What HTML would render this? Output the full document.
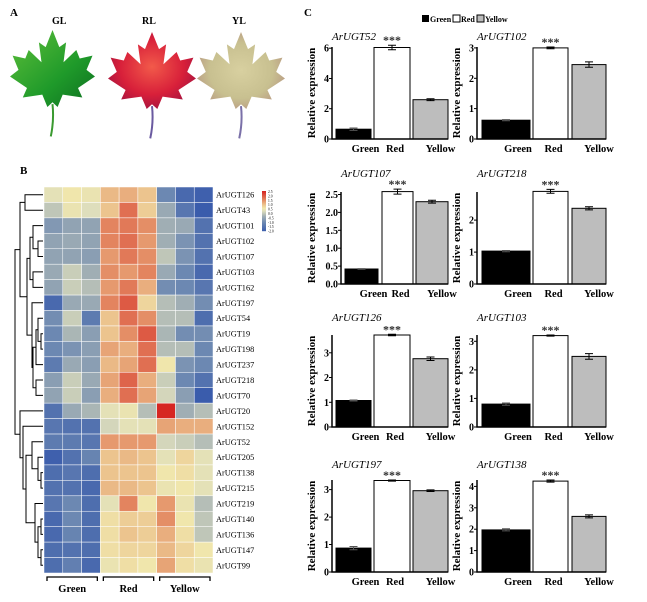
<!DOCTYPE html>
<html><head><meta charset="utf-8"><style>
html,body{margin:0;padding:0;background:#fff;}
svg{display:block;font-family:"Liberation Serif",serif;}
</style></head><body>
<svg id="fig" width="647" height="602" viewBox="0 0 647 602">
<defs>
<linearGradient id="gGreen" x1="0" y1="0" x2="1" y2="1"><stop offset="0" stop-color="#5fbf3a"/><stop offset="0.6" stop-color="#1f9a2a"/><stop offset="1" stop-color="#0d6e20"/></linearGradient>
<radialGradient id="gRed" cx="0.5" cy="0.45" r="0.6"><stop offset="0" stop-color="#f25a4a"/><stop offset="0.6" stop-color="#d8203a"/><stop offset="1" stop-color="#a01240"/></radialGradient>
<radialGradient id="gYel" cx="0.5" cy="0.5" r="0.6"><stop offset="0" stop-color="#d8d0a0"/><stop offset="0.6" stop-color="#c8c090"/><stop offset="1" stop-color="#b49080"/></radialGradient>
</defs>
<g id="panelA">
<text x="10" y="16" font-weight="bold" font-size="11">A</text>
<text x="52" y="24" font-weight="bold" font-size="10">GL</text>
<text x="142" y="24" font-weight="bold" font-size="10">RL</text>
<text x="232" y="24" font-weight="bold" font-size="10">YL</text>
</g>
<g id="panelB">
<text x="20" y="174" font-weight="bold" font-size="11">B</text>
</g>
<g id="panelC">
<text x="304" y="16" font-weight="bold" font-size="11">C</text>
<g font-weight="bold" font-size="8">
<rect x="422" y="15" width="7" height="7" fill="#000"/>
<text x="430" y="22">Green</text>
<rect x="453" y="15" width="7" height="7" fill="#fff" stroke="#000"/>
<text x="461" y="22">Red</text>
<rect x="477" y="15" width="7" height="7" fill="#bbb" stroke="#000"/>
<text x="485" y="22">Yellow</text>
</g>
</g>
</svg>
<script>
// ---------- heatmap data ----------
const heatGenes = ["ArUGT126","ArUGT43","ArUGT101","ArUGT102","ArUGT107","ArUGT103","ArUGT162","ArUGT197","ArUGT54","ArUGT19","ArUGT198","ArUGT237","ArUGT218","ArUGT70","ArUGT20","ArUGT152","ArUGT52","ArUGT205","ArUGT138","ArUGT215","ArUGT219","ArUGT140","ArUGT136","ArUGT147","ArUGT99"];
const heatGroups = ["Green","Red","Yellow"];
const heatValues = [
[0.4,0.6,0.5,1.1,1.2,1.0,-1.0,-1.7,-1.9],
[0,0.5,0.3,1.0,1.8,0.9,-0.4,-1.4,-2.0],
[-0.7,-0.5,-0.5,1.6,1.7,1.5,-0.3,-0.4,-1.5],
[-0.5,-0.4,-0.5,1.6,1.8,1.4,-0.3,-0.8,-1.5],
[-0.5,-0.5,-0.6,1.4,1.7,1.5,0,-0.8,-1.5],
[-0.4,0.1,-0.3,1.5,1.4,1.6,-0.4,-1.0,-1.7],
[-0.5,0.1,-0.1,1.4,1.7,1.2,-0.9,-1.0,-1.4],
[-1.7,-0.4,-0.4,1.6,2.0,0.8,-0.1,-0.3,-0.9],
[-0.9,0.1,-1.3,1.0,1.8,1.5,-0.1,-0.1,-1.6],
[-1.0,-0.2,-0.6,1.0,1.5,2.0,-0.2,-0.9,-0.9],
[-1.0,-0.8,-0.6,1.3,1.2,1.8,-0.1,-0.1,-1.0],
[-1.3,-0.4,-0.6,1.1,1.3,1.8,0.6,-0.8,-1.0],
[-0.6,0.1,-0.4,1.3,1.9,1.2,0.1,-1.0,-1.5],
[-0.5,0.1,-0.6,1.2,1.8,1.3,0.2,-0.6,-2.0],
[-1.5,-0.4,-0.2,0.4,0.5,-0.1,2.5,-0.3,-0.1],
[-1.4,-1.5,-1.5,0.2,0.4,0.4,1.3,1.2,1.2],
[-1.3,-1.3,-1.4,1.4,1.4,1.4,0.2,0.1,-0.1],
[-1.9,-1.5,-1.1,1.0,1.1,1.0,0.4,0.8,0.4],
[-1.6,-1.4,-1.6,1.0,1.0,1.0,0.6,0.7,0.4],
[-1.5,-1.5,-1.7,1.1,1.1,1.0,0.5,0.6,0.4],
[-1.4,-1.0,-1.6,0.4,1.6,0.6,1.4,0.5,-0.1],
[-1.7,-1.0,-1.6,0.7,0.9,0.9,1.5,0.6,0.0],
[-1.7,-1.1,-1.6,0.7,1.0,0.9,1.2,0.7,0.0],
[-1.6,-1.5,-1.6,0.7,0.8,0.8,1.1,0.8,0.6],
[-1.6,-1.2,-1.7,0.5,0.7,0.6,1.3,0.7,0.5]
];
const colorbarTicks = ["2.5","2.0","1.5","1.0","0.5","0.0","-0.5","-1.0","-1.5","-2.0"];
// ---------- bar chart data ----------
const barGenes = ["ArUGT52","ArUGT102","ArUGT107","ArUGT218","ArUGT126","ArUGT103","ArUGT197","ArUGT138"];
const barCategories = ["Green","Red","Yellow"];
const greenValues = [0.65,0.62,0.42,1.03,1.07,0.80,0.87,1.97];
const redValues = [6.05,3.00,2.58,2.90,3.72,3.20,3.33,4.25];
const yellowValues = [2.60,2.45,2.30,2.37,2.76,2.47,2.96,2.60];
const greenErr = [0.08,0.02,0.01,0.02,0.02,0.04,0.06,0.05];
const redErr = [0.15,0.03,0.07,0.06,0.03,0.02,0.02,0.05];
const yellowErr = [0.06,0.09,0.04,0.05,0.07,0.10,0.03,0.07];
const yMaxes = [6.08,3.03,2.57,2.88,3.72,3.22,3.35,4.3];
const tickLabels = [["0","2","4","6"],["0","1","2","3"],["0.0","0.5","1.0","1.5","2.0","2.5"],["0","1","2"],["0","1","2","3"],["0","1","2","3"],["0","1","2","3"],["0","1","2","3","4"]];

const NS="http://www.w3.org/2000/svg";
const svg=document.getElementById('fig');
function mk(tag,attrs,parent,txt){const e=document.createElementNS(NS,tag);for(const k in attrs)e.setAttribute(k,attrs[k]);if(txt!==undefined)e.textContent=txt;(parent||svg).appendChild(e);return e;}

// ---------- leaves ----------
const leafPts=[[50,0],[58,18],[66,13],[63,34],[78,21],[82,30],[97,27],[90,42],[100,49],[80,61],[85,71],[62,68],[56,81],[50,76],[44,81],[38,68],[15,71],[20,61],[0,49],[10,42],[3,27],[18,30],[22,21],[37,34],[34,13],[42,18]];
const pA=document.getElementById('panelA');
[[10,30,85,95,'url(#gGreen)','#3a9a30','green-leaf'],[108,32,88,95,'url(#gRed)','#6a5aa0','red-leaf'],[197,32,88,95,'url(#gYel)','#7a70a8','yellow-leaf']].forEach(l=>{
  const [x,y,w,h,f,sc,n]=l;
  const g=mk('g',{},pA);
  
  
  mk('path',{d:`M${x+w*0.5},${y+h*0.78} Q${x+w*0.52},${y+h*0.95} ${x+w*0.48},${y+h*1.12}`,stroke:sc,'stroke-width':2,fill:'none'},g);
  mk('polygon',{points:leafPts.map(p=>(x+p[0]*w/100).toFixed(1)+','+(y+p[1]*h/100).toFixed(1)).join(' '),fill:f},g);
});

// ---------- heatmap ----------
const pB=document.getElementById('panelB');
const hx0=44,hy0=187,cw=(213-44)/9,rh=386/25;
const stops=[[-2,[58,92,172]],[-1,[108,136,178]],[-0.3,[160,174,180]],[0.3,[222,222,188]],[0.6,[240,230,172]],[1.0,[236,196,142]],[1.5,[228,142,102]],[2.5,[214,38,34]]];
function col(v){if(v<=stops[0][0])return 'rgb('+stops[0][1]+')';for(let i=1;i<stops.length;i++){if(v<=stops[i][0]){const a=stops[i-1],b=stops[i];const t=(v-a[0])/(b[0]-a[0]);return 'rgb('+a[1].map((c,j)=>Math.round(c+(b[1][j]-c)*t)).join(',')+')';}}return 'rgb('+stops[stops.length-1][1]+')';}
const xCell=j=>hx0+j*cw, yCell=i=>hy0+i*rh;
heatValues.forEach((row,i)=>{
  row.forEach((v,j)=>{
    const r=mk('rect',{x:xCell(j).toFixed(2),y:yCell(i).toFixed(2),width:cw.toFixed(2),height:rh.toFixed(2),fill:col(v),stroke:'#fff','stroke-width':0.5},pB);
    
    
  });
  const t=mk('text',{x:216,y:(yCell(i)+rh/2+3).toFixed(1),'font-size':8.3},pB,heatGenes[i]);
  
  
});
for(let k=0;k<40;k++){const v=2.5-k*4.5/40;const r=mk('rect',{x:262,y:(191+k).toFixed(1),width:4,height:1.2,fill:col(v)},pB);}
colorbarTicks.forEach((s,k)=>{const t=mk('text',{x:268,y:(193+k*4.4).toFixed(1),'font-size':3.6},pB,s);});
heatGroups.forEach((g,k)=>{
  const a=xCell(k*3)+3,b=xCell(k*3+3)-3;
  const p=mk('path',{d:`M${a},581 L${a},577 L${b},577 L${b},581`,stroke:'#000','stroke-width':1.3,fill:'none'},pB);
  
  
  const t=mk('text',{x:((a+b)/2).toFixed(1),y:592,'font-size':10.5,'font-weight':'bold','text-anchor':'middle'},pB,g);
  
  
});
const tree=[[[0,1,25],[[[2,[3,4,38],33],[5,6,33],30],[7,[[[8,[9,10,41],38],11,36],[12,13,36],33],32],27],20],
  [14,[15,[[16,[17,[18,19,41],38],32],[20,[[21,22,41],[23,24,41],38],35],26],23],20],15];
function drawNode(n){
  if(typeof n==='number')return {x:43,y:yCell(n)+rh/2};
  const a=drawNode(n[0]),b=drawNode(n[1]),x=n[2];
  const p=mk('path',{d:`M${a.x},${a.y.toFixed(1)} L${x},${a.y.toFixed(1)} L${x},${b.y.toFixed(1)} L${b.x},${b.y.toFixed(1)}`,stroke:'#000','stroke-width':1,fill:'none'},pB);
  
  
  return {x:x,y:(a.y+b.y)/2};
}
drawNode(tree);

// ---------- bar charts ----------
const pC=document.getElementById('panelC');
const baselines=[139,139,284,284,427,427,572,572];
const titleOffsets=[99,99,107,107,106,106,104,104];
barGenes.forEach((gene,c)=>{
  const left=c%2===0;
  const base=baselines[c],top=base-92;
  const ax=left?(c===2?341:332):477;
  const bars=left?(c===2?[[345,378],[382,413],[416,448]]:[[336,371],[374,410],[413,448]]):[[482,530],[533,568],[572,606]];
  const g=mk('g',{},pC);
  
  
  const yS=v=>base-v/yMaxes[c]*(base-top);
  const vals=[greenValues[c],redValues[c],yellowValues[c]];
  const errs=[greenErr[c],redErr[c],yellowErr[c]];
  const fills=['#000','#fff','#bdbdbd'];
  vals.forEach((v,k)=>{
    const [x1,x2]=bars[k];
    const r=mk('rect',{x:x1,y:yS(v).toFixed(1),width:x2-x1,height:(base-yS(v)).toFixed(1),fill:fills[k],stroke:'#000','stroke-width':1},g);
    
    
    const cx=(x1+x2)/2,e1=yS(v+errs[k]),e2=yS(v-errs[k]);
    const e=mk('path',{d:`M${cx-4},${e1.toFixed(1)} L${cx+4},${e1.toFixed(1)} M${cx},${e1.toFixed(1)} L${cx},${e2.toFixed(1)} M${cx-4},${e2.toFixed(1)} L${cx+4},${e2.toFixed(1)}`,stroke:k===0?'#555':'#000','stroke-width':1,fill:'none'},g);
    
    
    const offs=[12,3,10];
    const t=mk('text',{x:cx+offs[k],y:base+13,'font-size':10.5,'font-weight':'bold','text-anchor':'middle'},g,barCategories[k]);
    
    
  });
  const st=mk('text',{x:(bars[1][0]+bars[1][1])/2,y:(yS(redValues[c]+redErr[c])-1).toFixed(1),'font-size':12,'font-weight':'bold','text-anchor':'middle','fill':'#333'},g,'***');
  
  
  const axl=mk('path',{d:`M${ax},${top} L${ax},${base} L${bars[2][1]},${base}`,stroke:'#000','stroke-width':1.5,fill:'none'},g);
  
  
  tickLabels[c].forEach(s=>{
    const y=yS(parseFloat(s));
    const tk=mk('path',{d:`M${ax-3},${y.toFixed(1)} L${ax},${y.toFixed(1)}`,stroke:'#000','stroke-width':1},g);
    
    
    const t=mk('text',{x:ax-3,y:(y+3.5).toFixed(1),'font-size':10,'font-weight':'bold','text-anchor':'end'},g,s);
    
    
  });
  const yt=ax-(c===2?26:17);
  const tt=mk('text',{x:yt,y:base-46,'font-size':11,'font-weight':'bold','text-anchor':'middle',transform:`rotate(-90 ${yt} ${base-46})`},g,'Relative expression');
  
  
  const ti=mk('text',{x:ax,y:base-titleOffsets[c],'font-size':11,'font-style':'italic'},g,gene);
  
  
});
</script>
</body></html>
